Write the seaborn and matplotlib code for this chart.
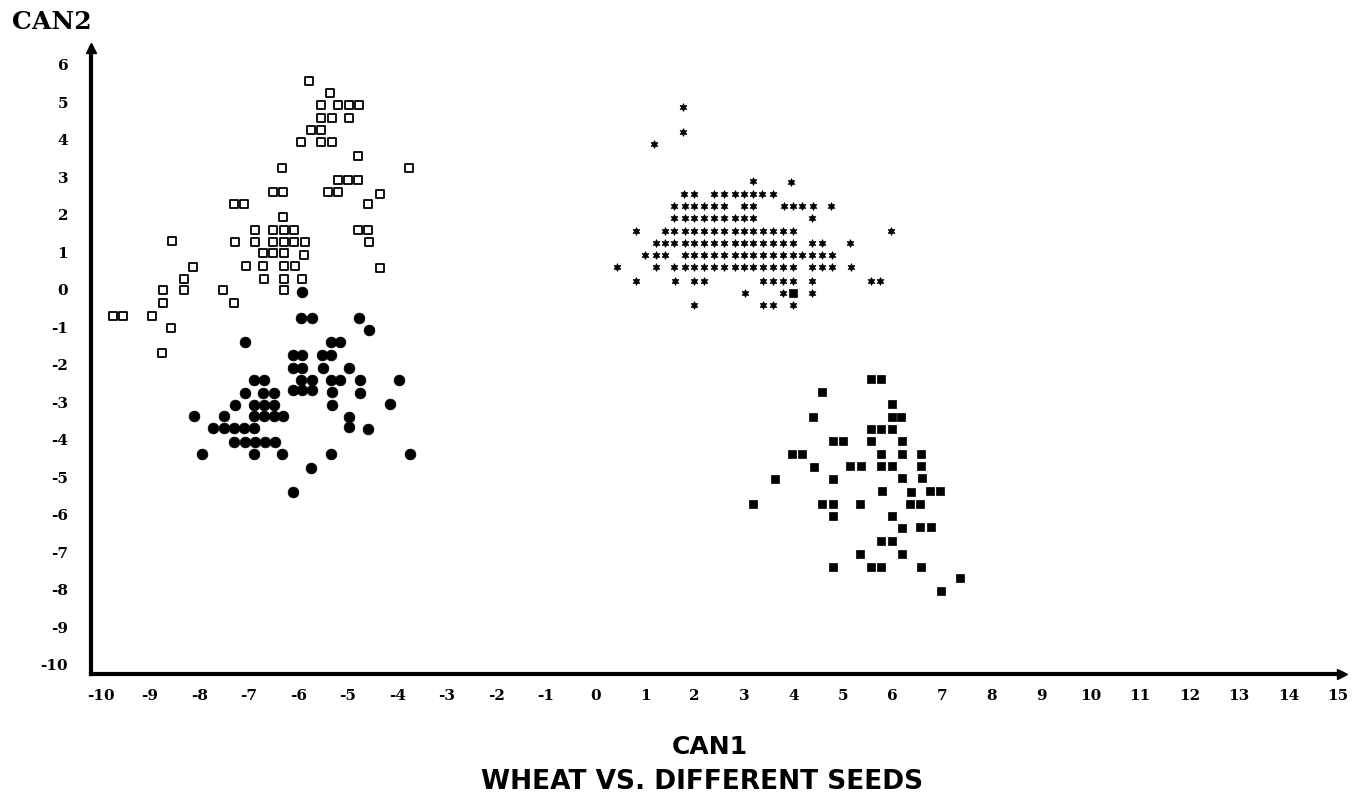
import matplotlib
matplotlib.use('Agg')
import matplotlib.pyplot as plt
import seaborn as sns
import pandas as pd

# --- datos (CAN1, CAN2) ---
# cuadrados abiertos (arriba izquierda)
cuad_abierto_can1 = [-5.78, -5.36, -5.54, -5.20, -4.98, -4.77, -5.54, -5.33, -4.98, -5.75, -5.54,
                     -5.94, -5.54, -5.33, -4.79, -6.34, -3.77, -5.21, -5.00, -4.79, -6.52, -6.32,
                     -5.40, -5.20, -4.35, -7.30, -7.10, -4.60, -6.31, -6.88, -6.51, -6.30, -6.09,
                     -4.80, -4.59, -8.55, -7.29, -6.88, -6.51, -6.30, -6.09, -5.87, -4.58, -6.71,
                     -6.51, -6.29, -5.88, -8.13, -7.07, -6.71, -6.29, -6.08, -4.36, -8.31, -6.69,
                     -6.29, -5.93, -8.74, -8.31, -7.52, -6.29, -8.74, -7.30, -9.75, -9.55, -8.95,
                     -8.57, -8.76]
cuad_abierto_can2 = [5.58, 5.26, 4.94, 4.94, 4.94, 4.94, 4.59, 4.59, 4.59, 4.27, 4.27,
                     3.95, 3.95, 3.95, 3.58, 3.26, 3.24, 2.93, 2.93, 2.93, 2.60, 2.60,
                     2.60, 2.60, 2.57, 2.28, 2.28, 2.28, 1.94, 1.61, 1.61, 1.61, 1.61,
                     1.60, 1.60, 1.31, 1.29, 1.29, 1.29, 1.29, 1.29, 1.29, 1.27, 0.98,
                     0.98, 0.98, 0.94, 0.61, 0.64, 0.64, 0.64, 0.64, 0.59, 0.30, 0.30,
                     0.30, 0.30, 0.00, 0.00, 0.00, 0.00, -0.36, -0.36, -0.69, -0.69, -0.69,
                     -1.02, -1.67]

# circulos llenos (abajo izquierda)
circulo_can1 = [-5.93, -5.94, -5.72, -4.78, -4.58, -7.09, -5.35, -5.17, -6.12, -5.92, -5.53,
                -5.34, -6.12, -5.92, -5.51, -4.98, -6.90, -6.69, -5.94, -5.73, -5.35, -5.17,
                -4.76, -3.96, -7.08, -6.71, -6.50, -6.12, -5.92, -5.72, -5.32, -4.76, -7.29,
                -6.90, -6.69, -6.50, -5.32, -4.15, -8.12, -7.51, -6.90, -6.69, -6.50, -6.31,
                -4.98, -7.72, -7.51, -7.31, -7.10, -6.90, -4.98, -4.59, -7.30, -7.09, -6.88,
                -6.68, -6.48, -7.94, -6.90, -6.34, -5.34, -3.75, -5.75, -6.11]
circulo_can2 = [-0.06, -0.76, -0.76, -0.76, -1.07, -1.39, -1.39, -1.39, -1.73, -1.73, -1.73,
                -1.73, -2.07, -2.07, -2.07, -2.07, -2.40, -2.40, -2.40, -2.40, -2.40, -2.40,
                -2.40, -2.40, -2.75, -2.75, -2.75, -2.68, -2.68, -2.68, -2.71, -2.76, -3.06,
                -3.06, -3.06, -3.06, -3.07, -3.03, -3.37, -3.37, -3.37, -3.37, -3.37, -3.37,
                -3.39, -3.69, -3.69, -3.69, -3.69, -3.69, -3.66, -3.70, -4.06, -4.06, -4.06,
                -4.06, -4.06, -4.37, -4.37, -4.37, -4.37, -4.37, -4.76, -5.40]

# estrellas (arriba derecha)
estrella_can1 = [1.77, 1.76, 1.18, 3.18, 3.95,
                 1.79, 1.99, 2.40, 2.60, 2.81, 3.00, 3.18, 3.37, 3.59,
                 1.59, 1.80, 1.99, 2.20, 2.40, 2.60, 2.99, 3.19, 3.80, 3.99, 4.17, 4.39, 4.76,
                 1.59, 1.80, 1.99, 2.20, 2.40, 2.60, 2.81, 3.00, 3.19, 4.37,
                 0.82, 1.40, 1.59, 1.80, 1.99, 2.20, 2.40, 2.60, 2.81, 3.00, 3.19, 3.39, 3.59,
                 3.78, 3.98, 5.96,
                 1.22, 1.40, 1.59, 1.80, 1.99, 2.20, 2.40, 2.60, 2.81, 3.00, 3.19, 3.39, 3.59,
                 3.78, 3.98, 4.37, 4.57, 5.14,
                 1.00, 1.22, 1.40, 1.80, 1.99, 2.20, 2.40, 2.60, 2.81, 3.00, 3.19, 3.39, 3.59,
                 3.78, 3.98, 4.17, 4.37, 4.57, 4.77,
                 0.43, 1.22, 1.59, 1.80, 1.99, 2.20, 2.40, 2.60, 2.81, 3.00, 3.19, 3.39, 3.59,
                 3.78, 3.98, 4.37, 4.57, 4.77, 5.16,
                 0.82, 1.60, 1.99, 2.20, 3.39, 3.59, 3.78, 3.98, 4.37, 5.56, 5.74,
                 3.01, 3.78, 4.37,
                 1.99, 3.39, 3.59, 3.98]
estrella_can2 = [4.89, 4.22, 3.88, 2.91, 2.89,
                 2.55, 2.55, 2.55, 2.55, 2.55, 2.55, 2.55, 2.55, 2.55,
                 2.23, 2.23, 2.23, 2.23, 2.23, 2.23, 2.23, 2.23, 2.23, 2.23, 2.23, 2.23, 2.23,
                 1.93, 1.93, 1.93, 1.93, 1.93, 1.93, 1.93, 1.93, 1.93, 1.93,
                 1.57, 1.57, 1.57, 1.57, 1.57, 1.57, 1.57, 1.57, 1.57, 1.57, 1.57, 1.57, 1.57,
                 1.57, 1.57, 1.57,
                 1.25, 1.25, 1.25, 1.25, 1.25, 1.25, 1.25, 1.25, 1.25, 1.25, 1.25, 1.25, 1.25,
                 1.25, 1.25, 1.25, 1.25, 1.25,
                 0.93, 0.93, 0.93, 0.93, 0.93, 0.93, 0.93, 0.93, 0.93, 0.93, 0.93, 0.93, 0.93,
                 0.93, 0.93, 0.93, 0.93, 0.93, 0.93,
                 0.60, 0.60, 0.60, 0.60, 0.60, 0.60, 0.60, 0.60, 0.60, 0.60, 0.60, 0.60, 0.60,
                 0.60, 0.60, 0.60, 0.60, 0.60, 0.60,
                 0.25, 0.25, 0.25, 0.25, 0.25, 0.25, 0.25, 0.25, 0.25, 0.25, 0.25,
                 -0.07, -0.07, -0.07,
                 -0.40, -0.40, -0.40, -0.40]

# cuadrados llenos (abajo derecha)
cuad_lleno_can1 = [3.98, 5.56, 5.77, 4.58, 5.98, 4.40, 5.98, 6.17, 5.56, 5.77, 5.98, 4.80, 5.00,
                   5.56, 6.19, 3.96, 4.17, 5.77, 6.19, 6.57, 4.41, 5.15, 5.36, 5.77, 5.98, 6.57,
                   3.62, 4.80, 6.19, 6.59, 5.79, 6.37, 6.75, 6.96, 3.19, 4.58, 4.80, 5.34, 6.36,
                   6.56, 4.80, 5.98, 6.20, 6.56, 6.77, 5.77, 5.98, 5.34, 6.19, 4.80, 5.57, 5.77,
                   6.57, 7.36, 6.97]
cuad_lleno_can2 = [-0.07, -2.38, -2.38, -2.73, -3.03, -3.39, -3.38, -3.38, -3.72, -3.72, -3.72,
                   -4.03, -4.03, -4.03, -4.03, -4.38, -4.38, -4.37, -4.37, -4.37, -4.71, -4.69,
                   -4.69, -4.69, -4.69, -4.69, -5.04, -5.04, -5.02, -5.02, -5.35, -5.38, -5.35,
                   -5.35, -5.70, -5.70, -5.70, -5.70, -5.70, -5.70, -6.03, -6.03, -6.35, -6.33,
                   -6.33, -6.69, -6.69, -7.03, -7.03, -7.38, -7.40, -7.40, -7.38, -7.69, -8.02]

ticks_x = list(range(-10, 16))
ticks_y = list(range(-10, 7))

sns.set_theme(style="white")
plt.rcParams['font.family'] = ['DejaVu Serif']
plt.rcParams.update({'text.color': 'black', 'xtick.color': 'black',
                     'ytick.color': 'black', 'axes.labelcolor': 'black'})

fig = plt.figure(figsize=(13.53, 8), dpi=100)
ax = fig.add_axes([0.0673, 0.1575, 0.9246, 0.7825])

sns.scatterplot(x=cuad_abierto_can1, y=cuad_abierto_can2, marker='s', s=40,
                color='white', edgecolor='black', linewidth=1.3, ax=ax)
sns.scatterplot(x=circulo_can1, y=circulo_can2, marker='o', s=60,
                color='black', edgecolor='black', linewidth=0.5, ax=ax)
sns.scatterplot(x=estrella_can1, y=estrella_can2, marker=(6, 1, 0), s=30,
                color='black', edgecolor='black', linewidth=0.6, ax=ax)
sns.scatterplot(x=cuad_lleno_can1, y=cuad_lleno_can2, marker='s', s=40,
                color='black', edgecolor='black', linewidth=0.5, ax=ax)

ax.set_xlim(-10.19, 15.08)
ax.set_ylim(-10.24, 6.45)
ax.set_xticks(ticks_x)
ax.set_yticks(ticks_y)
ax.set_xticklabels([str(t) for t in ticks_x], fontsize=11, fontweight='bold')
ax.set_yticklabels([str(t) for t in ticks_y], fontsize=11, fontweight='bold')
ax.tick_params(axis='both', direction='inout', length=11, width=1.4, color='black')
ax.tick_params(axis='x', pad=5)
ax.tick_params(axis='y', pad=11)

for lado in ['top', 'right']:
    ax.spines[lado].set_visible(False)
for lado in ['left', 'bottom']:
    ax.spines[lado].set_linewidth(3)
    ax.spines[lado].set_color('black')

# flechas en los extremos de los ejes
ax.plot(1, 0, '>', color='black', markersize=7, transform=ax.transAxes, clip_on=False)
ax.plot(0, 1, '^', color='black', markersize=7, transform=ax.transAxes, clip_on=False)

ax.set_xlabel('')
ax.set_ylabel('')
ax.grid(False)

fig.text(12 / 1353, 1 - 22 / 800, 'CAN2', fontsize=18, fontweight='bold',
         ha='left', va='center')
fig.text(710 / 1353, 1 - 747 / 800, 'CAN1', fontsize=18, fontweight='bold',
         family='DejaVu Sans', ha='center', va='center')
fig.text(702 / 1353, 1 - 782 / 800, 'WHEAT VS. DIFFERENT SEEDS', fontsize=19,
         fontweight='bold', family='DejaVu Sans', ha='center', va='center')

fig.savefig('out.png', dpi=100, facecolor='white')
